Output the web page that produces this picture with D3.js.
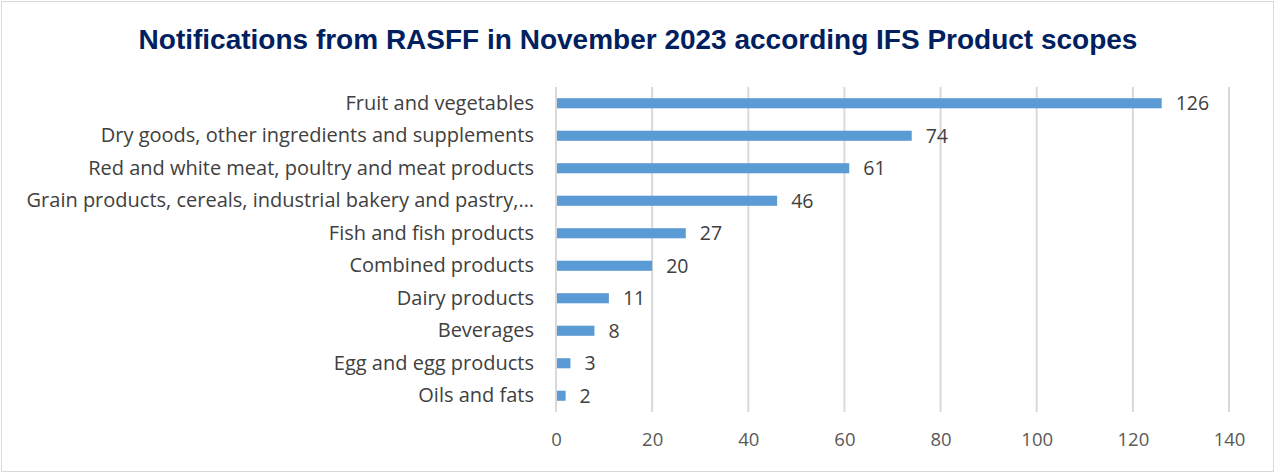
<!DOCTYPE html>
<html>
<head>
<meta charset="utf-8">
<script src="https://cdn.jsdelivr.net/npm/d3@7"></script>
<style>
  body { margin: 0; background: #fff; }
  svg text { font-family: "Open Sans", "Noto Sans", sans-serif; }
</style>
</head>
<body>
<div id="chart"></div>
<script>
// chart data
var categories = [
	"Fruit and vegetables",
	"Dry goods, other ingredients and supplements",
	"Red and white meat, poultry and meat products",
	"Grain products, cereals, industrial bakery and pastry,\u2026",
	"Fish and fish products",
	"Combined products",
	"Dairy products",
	"Beverages",
	"Egg and egg products",
	"Oils and fats"
];
var counts = [126, 74, 61, 46, 27, 20, 11, 8, 3, 2];
var xTicks = [0, 20, 40, 60, 80, 100, 120, 140];

var width = 1275,
	height = 473,
	margin = { top: 87, right: 46, bottom: 61, left: 556 };

var svg = d3.select("#chart")
	.append("svg")
	.attr("width", width)
	.attr("height", height);

// outer frame
svg.append("rect")
	.attr("x", 1.5)
	.attr("y", 1.5)
	.attr("width", width - 3)
	.attr("height", height - 3)
	.attr("fill", "white")
	.attr("stroke", "#d9d9d9")
	.attr("stroke-width", 1);

svg.append("text")
	.attr("x", 638)
	.attr("y", 49)
	.attr("text-anchor", "middle")
	.style("font-family", "'Liberation Sans', Arial, sans-serif")
	.style("font-weight", "bold")
	.style("font-size", "28px")
	.attr("fill", "#002060")
	.text("Notifications from RASFF in November 2023 according IFS Product scopes");

var x = d3.scaleLinear()
	.domain([0, 140])
	.range([margin.left, width - margin.right]);

var y = d3.scaleBand()
	.domain(categories)
	.range([margin.top, height - margin.bottom])
	.paddingInner(0.69)
	.paddingOuter(0.345);

// gridlines
svg.append("g")
	.selectAll("line")
	.data(xTicks)
	.enter().append("line")
	.attr("x1", function(d) { return x(d); })
	.attr("x2", function(d) { return x(d); })
	.attr("y1", margin.top)
	.attr("y2", height - margin.bottom)
	.attr("stroke", "#d9d9d9")
	.attr("stroke-width", 2);

// x axis labels
var xAxis = d3.axisBottom(x).tickValues(xTicks).tickSize(0).tickPadding(21);
var gx = svg.append("g")
	.attr("transform", "translate(0," + (height - margin.bottom) + ")")
	.call(xAxis);
gx.select(".domain").remove();
gx.selectAll("text")
	.style("font-family", "'Open Sans', sans-serif")
	.style("font-size", "18.5px")
	.attr("fill", "#595959");

// category labels
var yAxis = d3.axisLeft(y).tickSize(0).tickPadding(22);
var gy = svg.append("g")
	.attr("transform", "translate(" + margin.left + ",0)")
	.call(yAxis);
gy.select(".domain").remove();
gy.selectAll("text")
	.style("font-family", "'Open Sans', sans-serif")
	.style("font-size", "20px")
	.attr("fill", "#404040");

// bars
svg.append("g")
	.selectAll("rect")
	.data(counts)
	.enter().append("rect")
	.attr("x", x(0) + 1)
	.attr("y", function(d, i) { return y(categories[i]); })
	.attr("width", function(d) { return x(d) - x(0) - 1; })
	.attr("height", y.bandwidth())
	.attr("fill", "#5b9bd5");

// value labels
svg.append("g")
	.selectAll("text")
	.data(counts)
	.enter().append("text")
	.attr("x", function(d) { return x(d) + 14; })
	.attr("y", function(d, i) { return y(categories[i]) + y.bandwidth() / 2; })
	.attr("dy", "0.35em")
	.style("font-family", "'Open Sans', sans-serif")
	.style("font-size", "19.5px")
	.attr("fill", "#404040")
	.text(function(d) { return d; });
</script>
</body>
</html>
